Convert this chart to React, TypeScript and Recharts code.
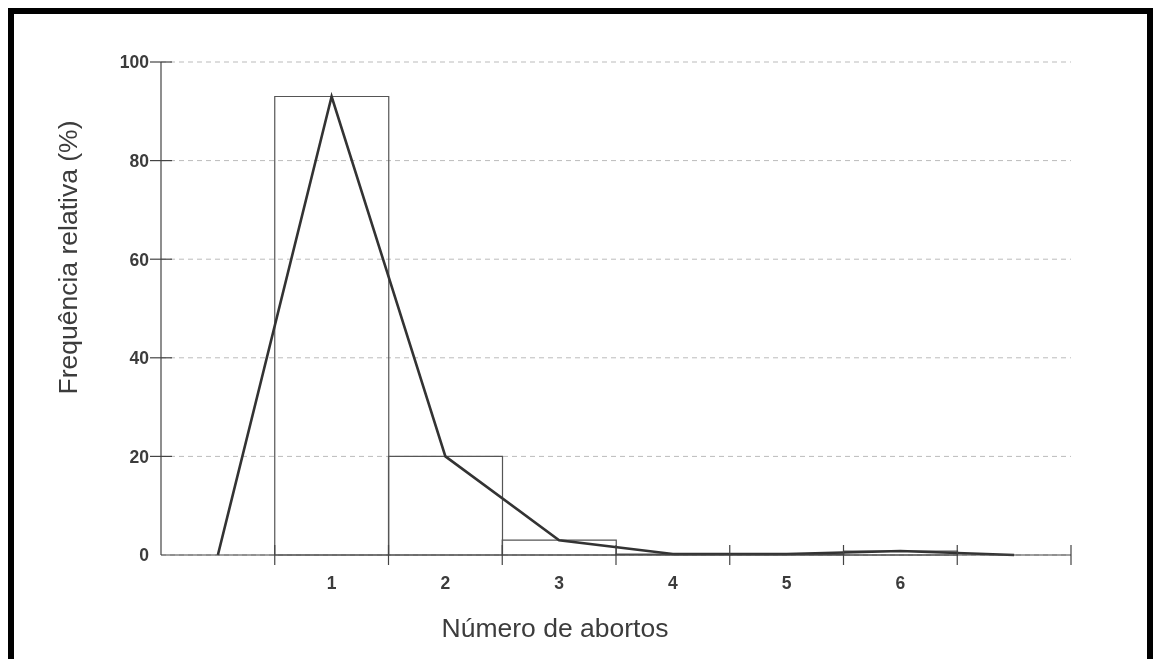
import * as React from 'react';
import {
  ComposedChart,
  Bar,
  Line,
  XAxis,
  YAxis,
  CartesianGrid,
  Label,
} from 'recharts';

// number of abortions (0 and 7 are the empty classes that close the polygon)
const categories = [0, 1, 2, 3, 4, 5, 6, 7];
const xLabels = ['', '1', '2', '3', '4', '5', '6', ''];
// relative frequency (%) of each class, bars only for 1..6
const barValues = [null, 93, 20, 3, 0.2, 0.2, 0.8, null];
// frequency polygon
const lineValues = [0, 93, 20, 3, 0.2, 0.2, 0.8, 0];
const yTicks = [0, 20, 40, 60, 80, 100];

const data = categories.map((c, i) => ({ x: c, bar: barValues[i], line: lineValues[i] }));

const CHART_W = 1146;
const CHART_H = 643;
const MARGIN = { top: 54, right: 83, left: 73, bottom: 56 };
const Y_AXIS_W = 80;
const X_AXIS_H = 40;
const PLOT_W = CHART_W - MARGIN.left - MARGIN.right - Y_AXIS_W;
const BAND = PLOT_W / categories.length;

const FONT = '"Liberation Sans", Arial, sans-serif';
const AXIS = '#444';
const TEXT = '#3c3c3c';

const YTick = (props: any) => {
  const { x, y, payload } = props;
  return (
    <g>
      {payload.value !== 0 && <line x1={x - 11} x2={x + 11} y1={y} y2={y} stroke={AXIS} strokeWidth={1.2} />}
      <text x={x - 12} y={y} dy="0.36em" textAnchor="end" fontFamily={FONT} fontWeight="bold" fontSize={17.5} fill={TEXT}>
        {payload.value}
      </text>
    </g>
  );
};

const XTick = (props: any) => {
  const { x, y, payload } = props;
  const edge = x + BAND / 2;
  return (
    <g>
      <line x1={edge} x2={edge} y1={y - 10} y2={y + 10} stroke={AXIS} strokeWidth={1.2} />
      <text x={x} y={y + 34} textAnchor="middle" fontFamily={FONT} fontWeight="bold" fontSize={17.5} fill={TEXT}>
        {xLabels[payload.index]}
      </text>
    </g>
  );
};

export default function App() {
  return (
    <div style={{ position: 'relative', width: CHART_W, height: CHART_H }}>
      {/* black frame, open at the bottom */}
      <div
        style={{
          position: 'fixed',
          left: 8,
          top: 8,
          right: 1,
          height: 700,
          boxSizing: 'border-box',
          borderTop: '6px solid #000',
          borderLeft: '6px solid #000',
          borderRight: '6px solid #000',
        }}
      />
      <div style={{ position: 'absolute', left: 0, top: 0 }}>
        <ComposedChart width={CHART_W} height={CHART_H} data={data} margin={MARGIN} barCategoryGap={0} barGap={0}>
          <CartesianGrid vertical={false} stroke="#bbb" strokeDasharray="5 4" />
          <XAxis
            dataKey="x"
            type="category"
            height={X_AXIS_H}
            interval={0}
            tickSize={0}
            tickMargin={0}
            tickLine={false}
            axisLine={{ stroke: AXIS, strokeWidth: 1.2 }}
            tick={XTick}
          >
            <Label
              content={(p: any) => {
                const vb = p.viewBox;
                return (
                  <text x={vb.x + 394} y={vb.y + 82} textAnchor="middle" fontFamily={FONT} fontSize={26.5} fill={TEXT}>
                    Número de abortos
                  </text>
                );
              }}
            />
          </XAxis>
          <YAxis
            type="number"
            domain={[0, 100]}
            ticks={yTicks}
            width={Y_AXIS_W}
            tickSize={0}
            tickMargin={0}
            tickLine={false}
            axisLine={{ stroke: AXIS, strokeWidth: 1.2 }}
            tick={YTick}
          >
            <Label
              content={(p: any) => {
                const vb = p.viewBox;
                const cx = vb.x - 13;
                const cy = vb.y + vb.height / 2 - 51;
                return (
                  <text
                    x={cx}
                    y={cy}
                    transform={`rotate(-90, ${cx}, ${cy})`}
                    textAnchor="middle"
                    dominantBaseline="central"
                    fontFamily={FONT}
                    fontSize={26.5}
                    fill={TEXT}
                  >
                    Frequência relativa (%)
                  </text>
                );
              }}
            />
          </YAxis>
          <Bar dataKey="bar" fill="none" stroke="#555" strokeWidth={1.2} isAnimationActive={false} />
          <Line
            type="linear"
            dataKey="line"
            stroke="#333"
            strokeWidth={2.6}
            dot={false}
            activeDot={false}
            isAnimationActive={false}
          />
        </ComposedChart>
      </div>
    </div>
  );
}
